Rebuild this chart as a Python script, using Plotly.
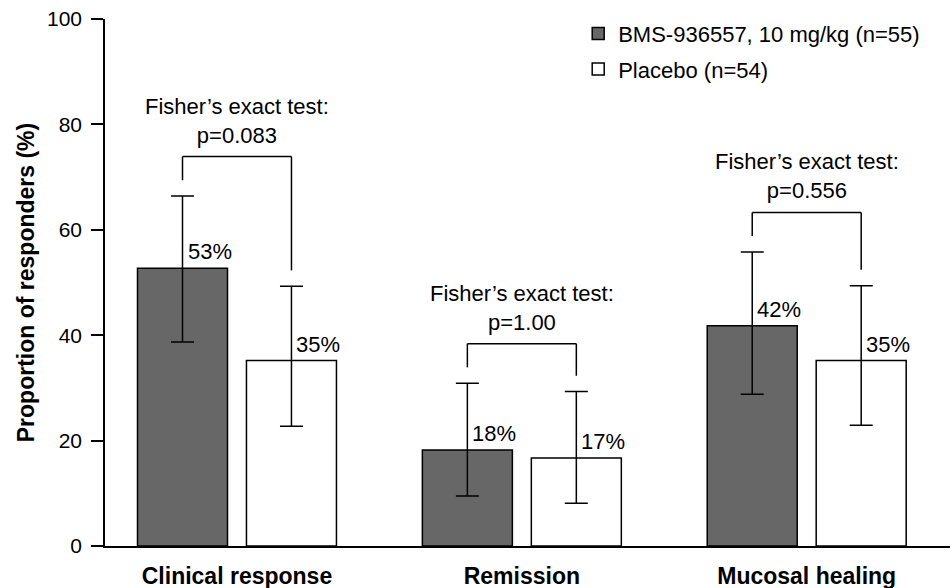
import plotly.graph_objects as go

# ---- data ----
categories = ["Clinical response", "Remission", "Mucosal healing"]
series_names = ["BMS-936557, 10 mg/kg (n=55)", "Placebo (n=54)"]

bms_values = [52.7, 18.2, 41.8]
bms_labels = ["53%", "18%", "42%"]
bms_ci_upper = [66.4, 30.9, 55.8]
bms_ci_lower = [38.7, 9.5, 28.8]

placebo_values = [35.2, 16.7, 35.2]
placebo_labels = ["35%", "17%", "35%"]
placebo_ci_upper = [49.3, 29.3, 49.4]
placebo_ci_lower = [22.7, 8.1, 22.9]

test_name = "Fisher’s exact test:"
p_values = ["p=0.083", "p=1.00", "p=0.556"]

y_ticks = [0, 20, 40, 60, 80, 100]

# ---- style ----
FONT = "Liberation Sans, Arial, sans-serif"
DARK = "#676767"
BARGAP = 0.235
BARGROUPGAP = 0.174
LEG_GAP = 3.0      # gap between CI top and bracket leg
TOP_GAP = 7.5      # bracket top above highest CI

fig = go.Figure()
fig.add_trace(go.Bar(
    name=series_names[0], x=categories, y=bms_values, legendgroup="a",
    marker=dict(color=DARK, line=dict(color="black", width=1.5)),
    error_y=dict(type="data", symmetric=False,
                 array=[u - v for u, v in zip(bms_ci_upper, bms_values)],
                 arrayminus=[v - l for l, v in zip(bms_ci_lower, bms_values)],
                 color="black", thickness=1.5, width=11.5),
))
fig.add_trace(go.Bar(
    name=series_names[1], x=categories, y=placebo_values, legendgroup="b",
    marker=dict(color="white", line=dict(color="black", width=1.5)),
    error_y=dict(type="data", symmetric=False,
                 array=[u - v for u, v in zip(placebo_ci_upper, placebo_values)],
                 arrayminus=[v - l for l, v in zip(placebo_ci_lower, placebo_values)],
                 color="black", thickness=1.5, width=11.5),
))

off = (1 - BARGAP) / 4.0  # offset of each bar centre from category centre
shapes = []
annotations = []
for i in range(len(categories)):
    xl, xr = i - off, i + off
    top = max(bms_ci_upper[i], placebo_ci_upper[i]) + TOP_GAP
    line = dict(color="black", width=1.5)
    shapes.append(dict(type="line", xref="x", yref="y", x0=xl, x1=xl,
                       y0=bms_ci_upper[i] + LEG_GAP, y1=top, line=line))
    shapes.append(dict(type="line", xref="x", yref="y", x0=xl, x1=xr,
                       y0=top, y1=top, line=line))
    shapes.append(dict(type="line", xref="x", yref="y", x0=xr, x1=xr,
                       y0=placebo_ci_upper[i] + LEG_GAP, y1=top, line=line))
    annotations.append(dict(x=i, y=top, xref="x", yref="y",
                            text=test_name + "<br>" + p_values[i],
                            showarrow=False, xanchor="center", yanchor="bottom",
                            yshift=7, font=dict(family=FONT, size=22, color="black")))
    annotations.append(dict(x=xl, y=bms_values[i], xref="x", yref="y",
                            text=bms_labels[i], showarrow=False,
                            xanchor="left", yanchor="bottom", xshift=3, yshift=2,
                            font=dict(family=FONT, size=22, color="black")))
    annotations.append(dict(x=xr, y=placebo_values[i], xref="x", yref="y",
                            text=placebo_labels[i], showarrow=False,
                            xanchor="left", yanchor="bottom", xshift=3, yshift=2,
                            font=dict(family=FONT, size=22, color="black")))

fig.update_layout(
    width=952, height=588,
    margin=dict(l=105, r=2, t=19, b=42, pad=0, autoexpand=False),
    paper_bgcolor="white", plot_bgcolor="white",
    barmode="group", bargap=BARGAP, bargroupgap=BARGROUPGAP,
    font=dict(family=FONT, size=22, color="black"),
    showlegend=True,
    legend=dict(x=0.56, y=1.012, xanchor="left", yanchor="top",
                font=dict(family=FONT, size=22, color="black"),
                bgcolor="rgba(0,0,0,0)", traceorder="grouped", tracegroupgap=4),
    shapes=shapes, annotations=annotations,
    xaxis=dict(range=[-0.4633, 2.503], showgrid=False, zeroline=False,
               showline=True, linecolor="black", linewidth=1.5, automargin=False,
               ticks="", ticklabelstandoff=9,
               tickfont=dict(family=FONT, size=23, color="black", weight="bold")),
    yaxis=dict(range=[0, 100], tickvals=y_ticks, showgrid=False, zeroline=False,
               showline=True, linecolor="black", linewidth=1.5, automargin=False,
               ticks="outside", ticklen=12, tickwidth=1.5, tickcolor="black",
               ticklabelstandoff=5,
               tickfont=dict(family=FONT, size=21, color="black"),
               title=dict(text="Proportion of responders (%)", standoff=6,
                          font=dict(family=FONT, size=23, color="black", weight="bold"))),
)

fig.write_html("out.html", config={"displayModeBar": False},
               post_script="document.body.style.margin='0';document.body.style.overflow='hidden';")
